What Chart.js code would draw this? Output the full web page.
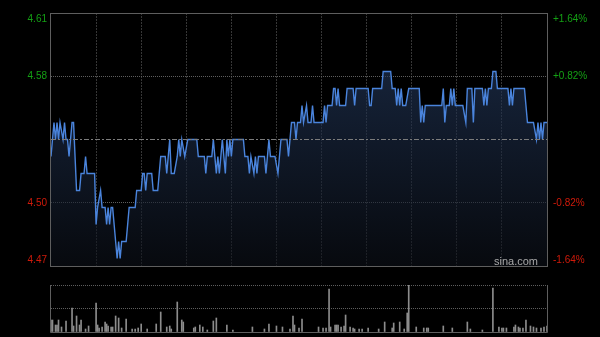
<!DOCTYPE html>
<html>
<head>
<meta charset="utf-8">
<script src="https://cdn.jsdelivr.net/npm/chart.js@4.4.1/dist/chart.umd.min.js"></script>
<style>
    html, body { margin: 0; padding: 0; background: #000; }
    #wrap { position: relative; width: 600px; height: 337px; background: #000; overflow: hidden; }
    #wrap canvas { position: absolute; left: 0; }
</style>
</head>
<body>
<div id="wrap">
    <canvas id="priceChart" width="600" height="280" style="top:0"></canvas>
    <canvas id="volChart" width="600" height="57" style="top:280px"></canvas>
</div>
<script>
// ====================================
// DATOS
// ====================================

const prevClose = 4.54;
const pctTicks = [-1.64, -0.82, 0, 0.82, 1.64];
const priceLabels = ['4.47', '4.50', '', '4.58', '4.61'];
const pctLabels = ['-1.64%', '-0.82%', '', '+0.82%', '+1.64%'];

// minuto del día (0 = 9:30) y precio en cada cambio
const priceMinutes = [
    0, 2, 3, 4, 5, 6, 8, 9, 10, 11, 12, 14, 15, 17, 19, 20, 22, 23, 24, 29,
    30, 31, 33, 34, 36, 37, 38, 39, 40, 41, 43, 44, 45, 46, 47, 50, 51, 52, 56, 57,
    60, 61, 62, 63, 64, 67, 68, 71, 73, 76, 77, 79, 80, 82,
    84, 85, 86, 87, 89, 91, 97, 98, 102, 103, 104, 107, 108, 110, 111, 112, 114, 116, 117, 118,
    119, 120, 121, 128, 129, 131, 132, 133, 135, 136, 137, 138, 142, 143, 145, 146, 149, 151, 153, 157,
    158, 159, 160, 162, 163, 164, 166,
    167, 168, 170, 171, 173, 174, 175, 181, 182, 183, 184, 187, 188, 189, 190, 191, 192, 196, 197, 201,
    202, 203, 211, 212, 213, 214, 220, 221, 226, 227, 229, 230, 231, 232, 233, 234, 236, 238, 245, 246,
    247, 248, 249,
    260, 261, 262, 263, 265, 266, 267, 268, 269, 274, 276, 277, 280, 281, 282, 287, 288, 289, 290, 291,
    293, 294, 296, 297, 304, 305, 306, 307, 308, 315, 316, 317, 321, 323, 324, 325, 326, 327, 328, 330
];
const priceValues = [
    4.53, 4.55, 4.54, 4.55, 4.54, 4.55, 4.54, 4.55, 4.54, 4.54, 4.53, 4.55, 4.55, 4.51, 4.51, 4.52, 4.52, 4.53, 4.52, 4.52,
    4.49, 4.50, 4.51, 4.50, 4.50, 4.49, 4.50, 4.49, 4.50, 4.50, 4.48, 4.47, 4.48, 4.47, 4.48, 4.48, 4.49, 4.50, 4.50, 4.51,
    4.51, 4.52, 4.52, 4.51, 4.52, 4.52, 4.51, 4.51, 4.53, 4.53, 4.52, 4.54, 4.52, 4.52,
    4.53, 4.54, 4.53, 4.54, 4.53, 4.54, 4.54, 4.53, 4.53, 4.52, 4.53, 4.53, 4.54, 4.52, 4.53, 4.52, 4.54, 4.52, 4.54, 4.53,
    4.54, 4.53, 4.54, 4.54, 4.53, 4.53, 4.52, 4.53, 4.52, 4.53, 4.52, 4.53, 4.53, 4.52, 4.54, 4.53, 4.53, 4.52, 4.54, 4.54,
    4.53, 4.54, 4.55, 4.55, 4.54, 4.55, 4.55,
    4.56, 4.55, 4.56, 4.55, 4.55, 4.56, 4.55, 4.55, 4.56, 4.55, 4.56, 4.56, 4.57, 4.57, 4.56, 4.57, 4.56, 4.56, 4.57, 4.57,
    4.56, 4.57, 4.57, 4.56, 4.56, 4.57, 4.57, 4.58, 4.58, 4.57, 4.57, 4.56, 4.57, 4.56, 4.57, 4.56, 4.56, 4.57, 4.57, 4.55,
    4.56, 4.55, 4.56,
    4.56, 4.57, 4.55, 4.56, 4.56, 4.57, 4.56, 4.57, 4.56, 4.56, 4.55, 4.57, 4.57, 4.55, 4.57, 4.57, 4.56, 4.57, 4.56, 4.57,
    4.57, 4.58, 4.58, 4.57, 4.57, 4.56, 4.57, 4.56, 4.57, 4.57, 4.56, 4.55, 4.55, 4.54, 4.55, 4.54, 4.55, 4.54, 4.55, 4.55
];

// volumen por minuto (miles de acciones), solo barras visibles
const volMinutes = [
    0, 1, 3, 4, 5, 7, 10, 14, 15, 17, 19, 20, 23, 25, 30, 31, 32, 34, 36, 37,
    38, 40, 41, 43, 45, 47, 50, 54, 56, 58, 60, 64, 70, 73, 77, 79, 80, 84, 87, 88,
    95, 96, 99, 101, 104, 108, 110, 117, 121, 134, 142, 145, 150, 154, 159, 161, 162, 165, 167, 178,
    181, 183, 185, 186, 189, 190, 191, 193, 195, 196, 199, 201, 202, 205, 207, 211, 218, 222, 227, 228,
    232, 235, 237, 238, 243, 248, 250, 251, 261, 267, 277, 279, 287, 294, 298, 300, 301, 303, 308, 309,
    311, 312, 314, 316, 319, 321, 323, 326, 328, 330
];
const volValues = [
    120, 120, 70, 70, 120, 50, 110, 240, 60, 160, 70, 120, 30, 60, 290, 70, 40, 50, 100, 80,
    60, 50, 50, 160, 140, 40, 130, 30, 30, 40, 80, 30, 80, 200, 50, 60, 30, 300, 120, 100,
    40, 50, 70, 50, 20, 110, 140, 70, 20, 50, 30, 80, 60, 50, 30, 160, 70, 40, 130, 50,
    40, 40, 430, 50, 70, 70, 70, 50, 60, 170, 50, 40, 30, 30, 30, 40, 30, 100, 40, 90,
    100, 30, 190, 520, 50, 40, 40, 40, 60, 40, 100, 30, 20, 440, 50, 40, 40, 40, 50, 70,
    50, 40, 40, 120, 60, 50, 40, 40, 50, 60
];
const volTicks = [0, 235, 470];

const upColor = '#14a014';
const downColor = '#d01a0a';
const frameColor = '#5e5e5e';

// ====================================
// PLUGINS
// ====================================

// Marco alrededor del área del gráfico
const priceFrame = {
    id: 'priceFrame',
    afterDraw(chart) {
        const { ctx, chartArea: a } = chart;
        ctx.save();
        ctx.strokeStyle = frameColor;
        ctx.lineWidth = 1;
        ctx.strokeRect(a.left - 0.5, a.top + 0.5, a.right - a.left + 1, a.bottom - a.top);
        ctx.restore();
    }
};

// Etiquetas de precio y porcentaje, y marca de agua
const priceLabelsPlugin = {
    id: 'priceLabels',
    afterDraw(chart) {
        const { ctx, chartArea: a, scales: { y } } = chart;
        ctx.save();
        ctx.font = '10px Arial, "Liberation Sans", sans-serif';
        ctx.textBaseline = 'middle';
        pctTicks.forEach((p, i) => {
            if (!priceLabels[i]) return;
            let py = y.getPixelForValue(prevClose * (1 + p / 100));
            py = Math.min(Math.max(py, a.top + 6), a.bottom - 6);
            ctx.fillStyle = p > 0 ? upColor : downColor;
            ctx.textAlign = 'right';
            ctx.fillText(priceLabels[i], a.left - 4, py);
            ctx.textAlign = 'left';
            ctx.fillText(pctLabels[i], a.right + 6, py);
        });
        ctx.font = '11px Arial, "Liberation Sans", sans-serif';
        ctx.fillStyle = '#a8a8a8';
        ctx.textAlign = 'right';
        ctx.textBaseline = 'alphabetic';
        ctx.fillText('sina.com', a.right - 9, a.bottom - 1);
        ctx.restore();
    }
};

const volFrame = {
    id: 'volFrame',
    afterDraw(chart) {
        const { ctx, chartArea: a } = chart;
        ctx.save();
        ctx.strokeStyle = frameColor;
        ctx.lineWidth = 1;
        ctx.beginPath();
        ctx.moveTo(a.left - 0.5, a.top);
        ctx.lineTo(a.left - 0.5, a.bottom + 0.5);
        ctx.lineTo(a.right + 0.5, a.bottom + 0.5);
        ctx.lineTo(a.right + 0.5, a.top);
        ctx.stroke();
        ctx.restore();
    }
};

// Degradado bajo la línea de precio
function priceGradient(context) {
    const { ctx, chartArea } = context.chart;
    if (!chartArea) return 'rgba(30,48,80,0.6)';
    const g = ctx.createLinearGradient(0, chartArea.top, 0, chartArea.bottom);
    g.addColorStop(0, 'rgba(42,68,112,0.62)');
    g.addColorStop(1, 'rgba(12,16,24,0.6)');
    return g;
}

// ====================================
// GRÁFICO DE PRECIO
// ====================================

const yMin = prevClose * (1 + pctTicks[0] / 100);
const yMax = prevClose * (1 + pctTicks[pctTicks.length - 1] / 100);

new Chart(document.getElementById('priceChart'), {
    type: 'line',
    data: {
        datasets: [
            {
                label: 'prevClose',
                data: [{ x: 0, y: prevClose }, { x: 330, y: prevClose }],
                borderColor: '#7c7c7c',
                borderWidth: 1,
                borderDash: [5, 2, 2, 2],
                pointRadius: 0,
                fill: false,
                order: 0
            },
            {
                label: 'price',
                data: priceMinutes.map((m, i) => ({ x: m, y: priceValues[i] })),
                borderColor: '#4a84dc',
                borderWidth: 1.4,
                pointRadius: 0,
                tension: 0,
                fill: 'start',
                backgroundColor: priceGradient,
                order: 1
            }
        ]
    },
    options: {
        responsive: false,
        animation: false,
        devicePixelRatio: 1,
        layout: { padding: { top: 13, bottom: 14, left: 0, right: 53 } },
        plugins: { legend: { display: false }, tooltip: { enabled: false } },
        scales: {
            x: {
                type: 'linear',
                min: 0,
                max: 330,
                ticks: { display: false, stepSize: 30 },
                grid: {
                    color: c => (c.index === 0 || c.index === 11) ? 'rgba(0,0,0,0)' : '#363636',
                    drawTicks: false
                },
                border: { display: false, dash: [2, 1] },
                afterFit: s => { s.height = 0; }
            },
            y: {
                type: 'linear',
                min: yMin,
                max: yMax,
                afterBuildTicks: s => {
                    s.ticks = pctTicks.map(p => ({ value: prevClose * (1 + p / 100) }));
                },
                ticks: { display: false },
                grid: {
                    color: c => (c.index === 1 || c.index === 3) ? '#5e5e5e' : 'rgba(0,0,0,0)',
                    drawTicks: false
                },
                border: { display: false, dash: [1, 1] },
                afterFit: s => { s.width = 51; }
            }
        }
    },
    plugins: [priceFrame, priceLabelsPlugin]
});

// ====================================
// GRÁFICO DE VOLUMEN
// ====================================

new Chart(document.getElementById('volChart'), {
    type: 'bar',
    data: {
        datasets: [{
            data: volMinutes.map((m, i) => ({ x: m, y: volValues[i] })),
            backgroundColor: '#8c8c8c',
            borderWidth: 0,
            barThickness: 1
        }]
    },
    options: {
        responsive: false,
        animation: false,
        devicePixelRatio: 1,
        layout: { padding: { top: 5, bottom: 5, left: 0, right: 53 } },
        plugins: { legend: { display: false }, tooltip: { enabled: false } },
        scales: {
            x: { type: 'linear', min: 0, max: 330, offset: false, display: false },
            y: {
                min: 0,
                max: volTicks[volTicks.length - 1],
                afterBuildTicks: s => { s.ticks = volTicks.map(v => ({ value: v })); },
                ticks: { display: false },
                grid: {
                    color: c => c.index === 0 ? 'rgba(0,0,0,0)' : '#5e5e5e',
                    drawTicks: false
                },
                border: { display: false, dash: [1, 1] },
                afterFit: s => { s.width = 51; }
            }
        }
    },
    plugins: [volFrame]
});
</script>
</body>
</html>
